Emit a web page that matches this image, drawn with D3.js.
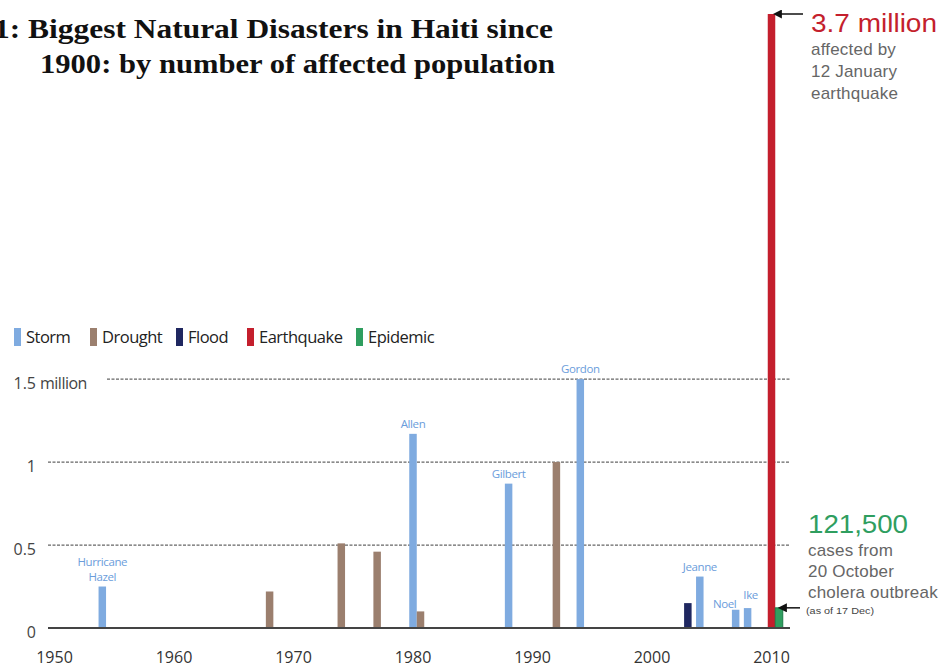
<!DOCTYPE html>
<html>
<head>
	<meta charset="utf-8">
	<title>Biggest Natural Disasters in Haiti</title>
	<script src="https://cdnjs.cloudflare.com/ajax/libs/d3/7.8.5/d3.min.js"></script>
	<style>
	body { margin: 0; background: #fff; }
	svg text { font-family: "Open Sans", sans-serif; }
	.title { font-family: "Liberation Serif", serif !important; font-weight: bold; font-size: 27px; fill: #111; }
	.note { font-family: "Liberation Sans", Arial, sans-serif !important; }
	</style>
</head>
<body>
	<svg id="svg" width="940" height="665"></svg>

	<script>
	// chart data
	const years    = [1954, 1968, 1974, 1977, 1980, 1980, 1988, 1992, 1994, 2003, 2004, 2007, 2008, 2010, 2010]
	const types    = ['Storm', 'Drought', 'Drought', 'Drought', 'Storm', 'Drought', 'Storm', 'Drought', 'Storm', 'Flood', 'Storm', 'Storm', 'Storm', 'Earthquake', 'Epidemic']
	const affected = [0.25, 0.22, 0.51, 0.46, 1.17, 0.10, 0.87, 1.0, 1.5, 0.15, 0.31, 0.11, 0.12, 3.7, 0.1215]   // million people
	const names    = ['Hurricane|Hazel', '', '', '', 'Allen', '', 'Gilbert', '', 'Gordon', '', 'Jeanne', 'Noel', 'Ike', '', '']

	const categories = ['Storm', 'Drought', 'Flood', 'Earthquake', 'Epidemic']
	const catColors  = ['#7fabe0', '#9b7f6e', '#1f2760', '#c41f2d', '#2f9e5f']
	const yTicks = [0, 0.5, 1, 1.5]
	const xTicks = [1950, 1960, 1970, 1980, 1990, 2000, 2010]

	const svg = d3.select('#svg')

	const x = d3.scaleLinear().domain([1950, 2010]).range([54.5, 771.5])
	const y = d3.scaleLinear().domain([0, 3.7]).range([628, 14])
	const color = d3.scaleOrdinal().domain(categories).range(catColors)
	const barW = 7.5

	// title (the figure number is cut by the left edge, like the scan)
	svg.append('text').attr('class', 'title').attr('x', -6).attr('y', 38)
		.attr('textLength', 559).attr('lengthAdjust', 'spacingAndGlyphs')
		.text('1: Biggest Natural Disasters in Haiti since')
	svg.append('text').attr('class', 'title').attr('x', 40).attr('y', 73)
		.attr('textLength', 515).attr('lengthAdjust', 'spacingAndGlyphs')
		.text('1900: by number of affected population')

	// legend
	const legX = [14, 90, 176, 247, 356]
	const leg = svg.selectAll('.leg').data(categories).enter().append('g')
		.attr('class', 'leg')
		.attr('transform', (d, i) => `translate(${legX[i]}, 328)`)
	leg.append('rect').attr('width', 7).attr('height', 18).attr('fill', d => color(d))
	leg.append('text').attr('x', 12).attr('y', 15).attr('font-size', 16.5).attr('fill', '#222')
		.attr('letter-spacing', -0.5).text(d => d)

	// gridlines
	svg.selectAll('.grid').data(yTicks.filter(d => d > 0)).enter().append('line')
		.attr('class', 'grid')
		.attr('x1', d => d === 1.5 ? 107 : 48).attr('x2', 790)
		.attr('y1', d => y(d)).attr('y2', d => y(d))
		.attr('stroke', '#666').attr('stroke-width', 1.2).attr('stroke-dasharray', '3,1.5')

	// y labels
	svg.selectAll('.ylab').data(yTicks).enter().append('text')
		.attr('class', 'ylab')
		.attr('x', 36).attr('y', d => y(d) + 10)
		.attr('text-anchor', 'end').attr('font-size', 16).attr('fill', '#444')
		.text(d => d)
	svg.append('text').attr('x', 40).attr('y', y(1.5) + 10).attr('font-size', 16)
		.attr('fill', '#444').attr('letter-spacing', -0.5).text('million')

	// bars, bars sharing a year sit side by side
	const rows = years.map((yr, i) => ({year: yr, type: types[i], value: affected[i], name: names[i]}))
	const seen = {}
	rows.forEach(d => { d.slot = seen[d.year] || 0; seen[d.year] = d.slot + 1 })

	svg.selectAll('.bar').data(rows).enter().append('rect')
		.attr('class', 'bar')
		.attr('x', d => x(d.year) - barW / 2 + d.slot * barW)
		.attr('y', d => y(d.value))
		.attr('width', barW)
		.attr('height', d => y(0) - y(d.value))
		.attr('fill', d => color(d.type))
		.attr('stroke', d => d.type === 'Epidemic' ? '#1a7a45' : 'none')
		.attr('stroke-width', 1)

	// storm names
	const nudge = {Noel: {dx: -11, dy: 4}, Ike: {dx: 3, dy: -3}}
	const labs = svg.selectAll('.name').data(rows.filter(d => d.name)).enter().append('text')
		.attr('class', 'name')
		.attr('text-anchor', 'middle').attr('font-size', 11.5).attr('fill', '#6b9ddb')
		.attr('letter-spacing', -0.4)
		.attr('transform', d => {
			const n = nudge[d.name] || {dx: 0, dy: 0}
			const lines = d.name.split('|').length
			return `translate(${x(d.year) + n.dx}, ${y(d.value) - 6 - (lines - 1) * 15 + n.dy})`
		})
	labs.selectAll('tspan').data(d => d.name.split('|')).enter().append('tspan')
		.attr('x', 0).attr('dy', (d, i) => i ? 15 : 0).text(d => d)

	// baseline
	svg.append('line').attr('x1', 48).attr('x2', 790).attr('y1', y(0)).attr('y2', y(0))
		.attr('stroke', '#444').attr('stroke-width', 2)

	// x labels
	svg.selectAll('.xlab').data(xTicks).enter().append('text')
		.attr('class', 'xlab')
		.attr('x', d => x(d)).attr('y', 663)
		.attr('text-anchor', 'middle').attr('font-size', 16).attr('fill', '#333')
		.text(d => d)

	// arrows
	svg.append('defs').append('marker').attr('id', 'head')
		.attr('viewBox', '0 0 10 10').attr('refX', 1).attr('refY', 5)
		.attr('markerWidth', 6).attr('markerHeight', 6).attr('orient', 'auto-start-reverse')
		.append('path').attr('d', 'M0,0 L10,5 L0,10 Z').attr('fill', '#111')
	svg.append('line').attr('x1', 803).attr('x2', 781).attr('y1', y(3.7)).attr('y2', y(3.7))
		.attr('stroke', '#111').attr('stroke-width', 1.5).attr('marker-end', 'url(#head)')
	svg.append('line').attr('x1', 800).attr('x2', 786).attr('y1', y(0.1215)).attr('y2', y(0.1215))
		.attr('stroke', '#111').attr('stroke-width', 1.5).attr('marker-end', 'url(#head)')

	// annotations
	svg.append('text').attr('class', 'note').attr('x', 811).attr('y', 32)
		.attr('font-size', 25).attr('fill', '#c41f2d')
		.attr('textLength', 126).attr('lengthAdjust', 'spacingAndGlyphs').text('3.7 million')
	svg.selectAll('.eq').data(['affected by', '12 January', 'earthquake']).enter().append('text')
		.attr('class', 'note').attr('x', 811).attr('y', (d, i) => 55 + i * 22)
		.attr('font-size', 17).attr('letter-spacing', 0.2).attr('fill', '#666').text(d => d)

	svg.append('text').attr('class', 'note').attr('x', 808).attr('y', 533)
		.attr('font-size', 26).attr('fill', '#2f9e5f')
		.attr('textLength', 100).attr('lengthAdjust', 'spacingAndGlyphs').text('121,500')
	svg.selectAll('.ch').data(['cases from', '20 October', 'cholera outbreak']).enter().append('text')
		.attr('class', 'note').attr('x', 808).attr('y', (d, i) => 556 + i * 21)
		.attr('font-size', 17).attr('letter-spacing', 0.2).attr('fill', '#666').text(d => d)
	svg.append('text').attr('class', 'note').attr('x', 806).attr('y', 614)
		.attr('font-size', 9).attr('fill', '#444')
		.attr('textLength', 68).attr('lengthAdjust', 'spacingAndGlyphs').text('(as of 17 Dec)')
  </script>
</body>
</html>
